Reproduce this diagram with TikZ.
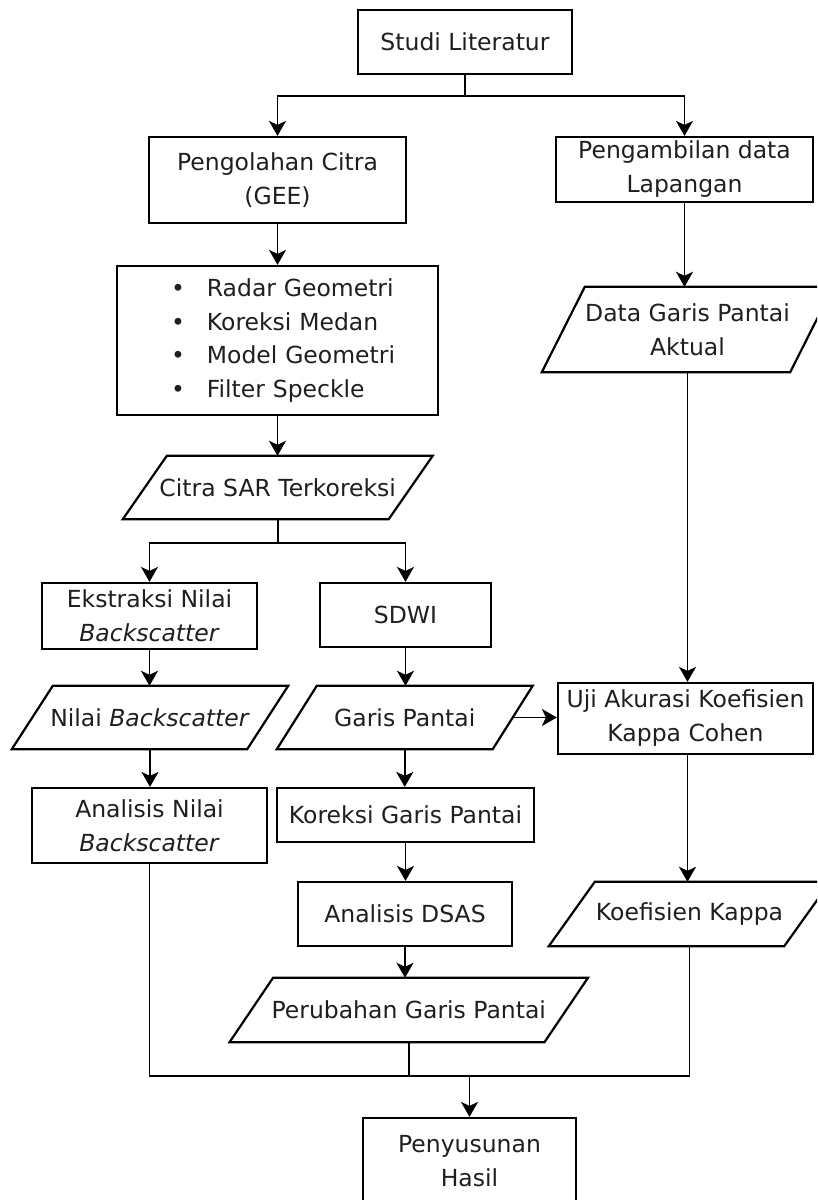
\documentclass[tikz,border=0pt]{standalone}
\usepackage{fontspec}
\setmainfont{DejaVu Sans}
\usetikzlibrary{arrows.meta,calc}
\newcommand\pgram[2]{\draw[line width=2.2pt, line join=miter] ([xshift=#2]#1.north west) -- ([xshift=#2]#1.north east) -- ([xshift=-#2]#1.south east) -- ([xshift=-#2]#1.south west) -- cycle;}
\tikzset{
  box/.style={draw, line width=2.2pt, inner sep=0pt, align=center, text=black!88},
  para/.style={inner sep=0pt, align=center, text=black!88},
  arr/.style={line width=1.8pt, -{Stealth[length=15pt,width=17pt,inset=4pt]}},
  ln/.style={line width=1.8pt},
}
\begin{document}
\begin{tikzpicture}[x=1pt,y=-1pt,font=\fontsize{23.5}{34}\selectfont]
\path[use as bounding box] (0,0) rectangle (817,1200);
\fill[white] (0,0) rectangle (817,1200);
\clip (0,0) rectangle (817,1200);

% nodes
\node[box, minimum width=214pt, minimum height=64pt] (studi) at (465,42) {Studi Literatur};
\node[box, minimum width=257pt, minimum height=86pt] (olah) at (277.5,180) {Pengolahan Citra\\(GEE)};
\node[box, minimum width=257pt, minimum height=65pt] (ambil) at (684.5,169.5) {Pengambilan data\\Lapangan};
\node[box, minimum width=321pt, minimum height=149pt, text width=321pt, align=left, font=\fontsize{23.5}{33.4}\selectfont] (bul) at (277.5,340.5)
  {\hspace*{54pt}•\hspace{22pt}Radar Geometri\\
   \hspace*{54pt}•\hspace{22pt}Koreksi Medan\\
   \hspace*{54pt}•\hspace{22pt}Model Geometri\\
   \hspace*{54pt}•\hspace{22pt}Filter Speckle};
\node[para, minimum width=265.5pt, minimum height=63pt] (citra) at (277.75,487.5) {Citra SAR Terkoreksi};
\node[para, minimum width=248pt, minimum height=85pt] (data) at (687.5,329.5) {Data Garis Pantai\\Aktual};
\node[box, minimum width=215pt, minimum height=66pt] (ekstr) at (149.5,616) {Ekstraksi Nilai\\\textit{Backscatter}};
\node[box, minimum width=171pt, minimum height=64pt] (sdwi) at (405.5,615) {SDWI};
\node[para, minimum width=235pt, minimum height=63pt] (nilai) at (150,717.5) {Nilai \textit{Backscatter}};
\node[para, minimum width=215.5pt, minimum height=63pt] (garis) at (404.75,717.5) {Garis Pantai};
\node[box, minimum width=255pt, minimum height=71pt] (uji) at (685.5,718.5) {Uji Akurasi Koefisien\\Kappa Cohen};
\node[box, minimum width=235pt, minimum height=75pt] (anal) at (149.5,825.5) {Analisis Nilai\\\textit{Backscatter}};
\node[box, minimum width=257pt, minimum height=54pt] (kor) at (405.5,815) {Koreksi Garis Pantai};
\node[box, minimum width=214pt, minimum height=64pt] (dsas) at (405,914) {Analisis DSAS};
\node[para, minimum width=235pt, minimum height=64pt] (kappa) at (689.5,914) {Koefisien Kappa};
\node[para, minimum width=314.5pt, minimum height=64pt] (ubah) at (408.75,1010) {Perubahan Garis Pantai};
\node[box, minimum width=213pt, minimum height=86pt] (susun) at (469.5,1161) {Penyusunan\\Hasil};

\pgram{citra}{22pt}
\pgram{data}{21.5pt}
\pgram{nilai}{20.5pt}
\pgram{garis}{20pt}
\pgram{kappa}{23pt}
\pgram{ubah}{21.75pt}

% connectors
\coordinate (j1) at (465,96);
\draw[ln] (studi.south) -- (j1);
\draw[arr] (j1) -| (olah.north);
\draw[arr] (j1) -| (ambil.north);
\draw[arr] (olah.south) -- (olah.south |- bul.north);
\draw[arr] (bul.south) -- (bul.south |- citra.north);
\coordinate (j2) at (277.75,543);
\draw[ln] (citra.south) -- (j2);
\draw[arr] (j2) -| (ekstr.north);
\draw[arr] (j2) -| (sdwi.north);
\draw[arr] (ekstr.south) -- (ekstr.south |- nilai.north);
\draw[arr] (nilai.south) -- (nilai.south |- anal.north);
\draw[arr] (sdwi.south) -- (sdwi.south |- garis.north);
\draw[arr] (garis.south) -- (garis.south |- kor.north);
\draw[arr] (kor.south) -- (kor.south |- dsas.north);
\draw[arr] (dsas.south) -- (dsas.south |- ubah.north);
\draw[arr] (garis.east) -- (garis.east -| uji.west);
\draw[arr] (ambil.south) -- (ambil.south |- data.north);
\draw[arr] (data.south) -- (data.south |- uji.north);
\draw[arr] (uji.south -| data.south) -- (data.south |- kappa.north);
\coordinate (m) at (469.5,1076);
\draw[ln] (anal.south) -- (anal.south |- m) -- (kappa.south |- m) -- (kappa.south);
\draw[ln] (ubah.south) -- (ubah.south |- m);
\draw[arr] (m) -- (susun.north);
\end{tikzpicture}
\end{document}
